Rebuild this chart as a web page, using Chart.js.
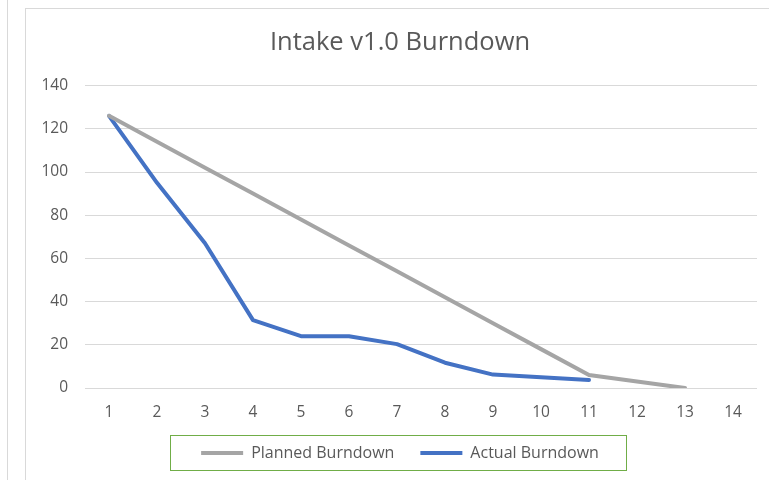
<!DOCTYPE html>
<html>
<head>
<meta charset="utf-8">
<script src="https://cdn.jsdelivr.net/npm/chart.js@4.4.0/dist/chart.umd.min.js"></script>
<style>
  html, body { margin: 0; padding: 0; background: #fff; }
  #wrap { position: relative; width: 769px; height: 480px; overflow: hidden; }
  #side { position: absolute; left: 7px; top: 0; width: 1px; height: 480px; background: #d9d9d9; }
  #frame { position: absolute; left: 25px; top: 8px; width: 800px; height: 500px; border: 1px solid #d9d9d9; }
  canvas { position: absolute; left: 0; top: 0; }
</style>
</head>
<body>
<div id="wrap">
  <div id="side"></div>
  <div id="frame"></div>
  <canvas id="chart" width="769" height="480"></canvas>
</div>
<script>
var days = ['1', '2', '3', '4', '5', '6', '7', '8', '9', '10', '11', '12', '13', '14'];
var planned = [126, 114, 102, 90, 78, 66, 54, 42, 30, 18, 6, 3, 0, null];
var actual = [126, 95, 67, 31.4, 24, 24, 20.3, 11.7, 6.2, 5, 3.7, null, null, null];
var yTicks = [0, 20, 40, 60, 80, 100, 120, 140];

var textColor = '#595959';
var fontFamily = "'Open Sans', 'Noto Sans', sans-serif";

// draws the green box round the legend items
var legendBox = {
    id: 'legendBox',
    afterDraw: function(chart) {
        var boxes = chart.legend.legendHitBoxes;
        if (!boxes || !boxes.length) return;
        var left = Infinity, right = -Infinity, top = Infinity, bottom = -Infinity;
        boxes.forEach(function(b) {
            left = Math.min(left, b.left);
            right = Math.max(right, b.left + b.width);
            top = Math.min(top, b.top);
            bottom = Math.max(bottom, b.top + b.height);
        });
        var ctx = chart.ctx;
        ctx.save();
        ctx.strokeStyle = '#70ad47';
        ctx.lineWidth = 1;
        var x0 = Math.round(left - 31), x1 = Math.round(right + 27);
        var y0 = Math.round(top - 10), y1 = Math.round(bottom + 9);
        ctx.strokeRect(x0 + 0.5, y0 + 0.5, x1 - x0, y1 - y0);
        ctx.restore();
    }
};

var ctx = document.getElementById('chart').getContext('2d');
var chart = new Chart(ctx, {
    type: 'line',
    data: {
        labels: days,
        datasets: [{
            label: 'Planned Burndown',
            data: planned,
            borderColor: '#a5a5a5',
            backgroundColor: '#a5a5a5',
            borderWidth: 4,
            borderCapStyle: 'round',
            borderJoinStyle: 'round',
            pointRadius: 0,
            pointHoverRadius: 0,
            tension: 0
        }, {
            label: 'Actual Burndown',
            data: actual,
            borderColor: '#4472c4',
            backgroundColor: '#4472c4',
            borderWidth: 4,
            borderCapStyle: 'round',
            borderJoinStyle: 'round',
            pointRadius: 0,
            pointHoverRadius: 0,
            tension: 0
        }]
    },
    options: {
        responsive: false,
        animation: false,
        layout: {
            padding: { left: 43, right: 12, top: 0, bottom: 9 }
        },
        plugins: {
            title: {
                display: true,
                text: 'Intake v1.0 Burndown',
                color: textColor,
                font: { family: fontFamily, size: 25.5, weight: 'normal' },
                padding: { top: 27, bottom: 28 }
            },
            legend: {
                position: 'bottom',
                labels: {
                    color: textColor,
                    font: { family: fontFamily, size: 16 },
                    usePointStyle: true,
                    pointStyle: 'line',
                    pointStyleWidth: 42,
                    padding: 26
                }
            },
            tooltip: { enabled: false }
        },
        scales: {
            x: {
                offset: true,
                afterFit: function(scale) {
                    // keep the tick labels close above the legend
                    scale.height = 31;
                },
                grid: { display: false, drawTicks: false },
                border: { display: false },
                ticks: {
                    color: textColor,
                    font: { family: fontFamily, size: 15.5 },
                    padding: 15,
                    maxRotation: 0
                }
            },
            y: {
                min: 0,
                max: 140,
                afterBuildTicks: function(scale) {
                    scale.ticks = yTicks.map(function(v) { return { value: v }; });
                },
                afterFit: function(scale) {
                    scale.width = 42;
                },
                grid: { color: '#d9d9d9', lineWidth: 1, drawTicks: false },
                border: { display: false },
                ticks: {
                    color: textColor,
                    font: { family: fontFamily, size: 15.5 },
                    padding: 17
                }
            }
        }
    },
    plugins: [legendBox]
});
</script>
</body>
</html>
